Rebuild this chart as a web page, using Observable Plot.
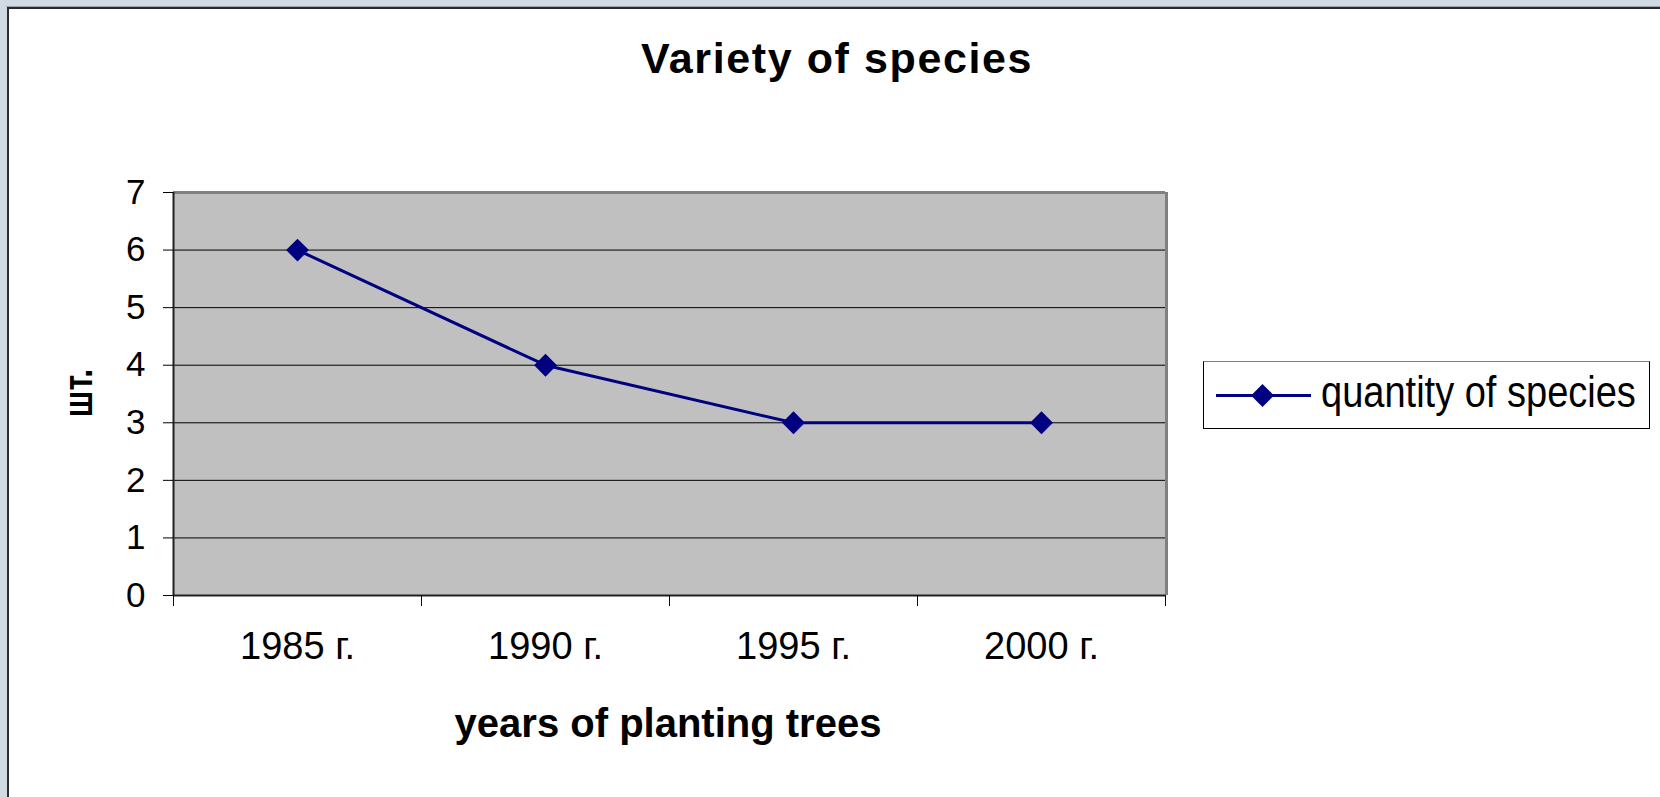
<!DOCTYPE html>
<html>
<head>
<meta charset="utf-8">
<script src="https://cdn.jsdelivr.net/npm/d3@7"></script>
<script src="https://cdn.jsdelivr.net/npm/@observablehq/plot@0.6"></script>
<style>
  html, body { margin: 0; padding: 0; background: #d0dae2; }
  #wrap { position: relative; width: 1660px; height: 797px; overflow: hidden; font-family: "Liberation Sans", Arial, sans-serif; color: #000; }
  #edge { position: absolute; left: 6px; top: 6px; right: 0; bottom: 0; border-top: 1px solid #9aa3ab; }
  #panel { position: absolute; left: 7px; top: 7px; right: 0; bottom: 0; background: #fff; border-left: 2px solid #2b2b2b; border-top: 2px solid #2b2b2b; }
  .abs { position: absolute; white-space: nowrap; line-height: 1; }
  #title { left: 837px; top: 36.6px; font-size: 43px; font-weight: bold; letter-spacing: 1.6px; transform: translateX(-50%); }
  #xtitle { left: 668px; top: 703px; font-size: 40px; font-weight: bold; transform: translateX(-50%); }
  #ytitle { left: 78px; top: 393px; font-size: 40px; font-weight: bold; transform: translate(-50%, -50%) rotate(-90deg) scaleX(0.8); }
  #legend { position: absolute; left: 1203px; top: 361px; width: 445px; height: 66px; border: 1px solid #000; border-top-color: #808080; background: #fff; }
  #legtext { left: 1321px; top: 369.8px; font-size: 44px; transform: scaleX(0.864); transform-origin: left center; }
  #chart { position: absolute; left: 0; top: 0; }
</style>
</head>
<body>
<div id="wrap">
  <div id="edge"></div>
  <div id="panel"></div>
  <div id="chart"></div>
  <div id="legend"></div>
  <svg id="legsym" class="abs" style="left:1203px;top:361px;overflow:visible" width="120" height="68"></svg>
  <div id="title" class="abs"></div>
  <div id="xtitle" class="abs"></div>
  <div id="ytitle" class="abs"></div>
  <div id="legtext" class="abs"></div>
</div>
<script>
// ---- data ----
const years = ["1985 г.", "1990 г.", "1995 г.", "2000 г."];
const counts = [6, 4, 3, 3];
const yTicks = [0, 1, 2, 3, 4, 5, 6, 7];
const seriesName = "quantity of species";
const titleText = "Variety of species";
const xTitleText = "years of planting trees";
const yTitleText = "шт.";

const data = years.map((label, i) => ({i, label, value: counts[i]}));
const navy = "#000080";

document.getElementById("title").textContent = titleText;
document.getElementById("xtitle").textContent = xTitleText;
document.getElementById("ytitle").textContent = yTitleText;
document.getElementById("legtext").textContent = seriesName;

const chart = Plot.plot({
  width: 1660,
  height: 797,
  marginLeft: 173,
  marginRight: 495,
  marginTop: 192,
  marginBottom: 202,
  style: {background: "transparent", fontFamily: "Liberation Sans, Arial, sans-serif", color: "#000", overflow: "visible"},
  x: {type: "linear", domain: [0, years.length]},
  y: {domain: [0, 7]},
  marks: [
    Plot.frame({fill: "#c0c0c0", stroke: null}),
    Plot.ruleY(yTicks.filter(t => t > 0 && t < 7), {stroke: "#000", strokeWidth: 1}),
    Plot.ruleY([7], {stroke: "#808080", strokeWidth: 3}),
    Plot.ruleX([years.length], {stroke: "#808080", strokeWidth: 3, dx: 1}),
    Plot.ruleY([0], {stroke: "#202020", strokeWidth: 2}),
    Plot.ruleX([0], {stroke: "#202020", strokeWidth: 2}),
    Plot.axisY({ticks: yTicks, tickSize: 10, tickPadding: 18, fontSize: 35, label: null, stroke: "#000", tickFormat: d => String(d)}),
    Plot.axisX({ticks: d3.range(0, years.length + 1), tickSize: 11, tickFormat: () => "", label: null, stroke: "#000"}),
    Plot.axisX({ticks: years.map((_, i) => i + 0.5), tickSize: 0, tickPadding: 37, fontSize: 38, label: null, tickFormat: d => years[Math.floor(d)]}),
    Plot.line(data, {x: d => d.i + 0.5, y: "value", stroke: navy, strokeWidth: 3}),
    Plot.dot(data, {x: d => d.i + 0.5, y: "value", symbol: "diamond2", r: 10.3, fill: navy, stroke: null})
  ]
});
document.getElementById("chart").appendChild(chart);

// legend symbol (line + diamond)
const leg = d3.select("#legsym");
leg.append("line").attr("x1", 13).attr("x2", 108).attr("y1", 34.5).attr("y2", 34.5)
  .attr("stroke", navy).attr("stroke-width", 3);
leg.append("path").attr("d", d3.symbol(d3.symbolDiamond2, Math.PI * 10.3 * 10.3)())
  .attr("transform", "translate(59.5,34.5)").attr("fill", navy);
</script>
</body>
</html>
